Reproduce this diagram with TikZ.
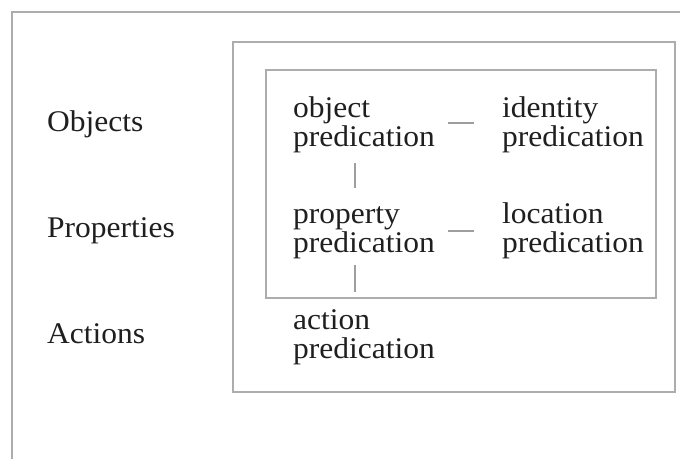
\documentclass[tikz,border=0pt]{standalone}
\usepackage{fontspec}
\setmainfont{Liberation Serif}[FakeStretch=1.05]
\begin{document}
\begin{tikzpicture}[x=1pt,y=-1pt,
  frame/.style={draw=black!32,line width=1.3pt},
  link/.style={draw=black!38,line width=1.1pt},
  lbl/.style={anchor=base west,inner sep=0pt,font=\fontsize{30}{29}\selectfont,text=black!88},
  pred/.style={anchor=base west,inner sep=0pt,align=left,font=\fontsize{30}{29}\selectfont,text=black!88}]
\useasboundingbox (0,0) rectangle (680,459);
\fill[white] (0,0) rectangle (680,459);
% page frame
\draw[frame] (12,459) -- (12,12) -- (680,12);
% boxes
\draw[frame] (233,42) rectangle (675,392);
\draw[frame] (266,70) rectangle (656,298);
% left labels
\node[lbl] (objects) at (47,131) {Objects};
\node[lbl] (properties) at (47,237) {Properties};
\node[lbl] (actions) at (47,343) {Actions};
% predications (anchor = baseline of the last line)
\node[pred] (obj) at (293,146) {object\\predication};
\node[pred] (ide) at (502,146) {identity\\predication};
\node[pred] (pro) at (293,252) {property\\predication};
\node[pred] (loc) at (502,252) {location\\predication};
\node[pred] (act) at (293,358) {action\\predication};
% connectors
\coordinate (h1a) at (448,123); \coordinate (h1b) at (474,123);
\coordinate (v1a) at (355,163); \coordinate (v1b) at (355,188);
\coordinate (h2a) at (448,231); \coordinate (h2b) at (474,231);
\coordinate (v2a) at (355,265); \coordinate (v2b) at (355,292);
\draw[link] (h1a) -- (h1b);
\draw[link] (v1a) -- (v1b);
\draw[link] (h2a) -- (h2b);
\draw[link] (v2a) -- (v2b);
\end{tikzpicture}
\end{document}
